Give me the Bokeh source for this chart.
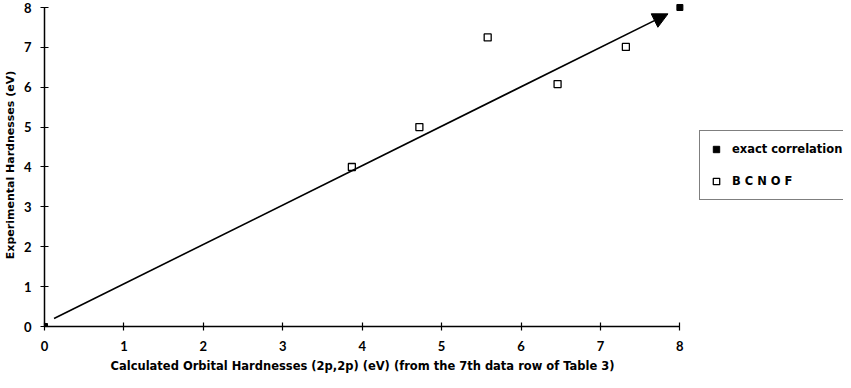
from bokeh.plotting import figure
from bokeh.models import Arrow, NormalHead, Legend, LegendItem, Range1d, FixedTicker, Title
from bokeh.embed import file_html
from bokeh.resources import INLINE

# data
calc_hardness = [3.87, 4.72, 5.58, 6.46, 7.32]
exp_hardness = [4.00, 5.00, 7.25, 6.08, 7.01]
exact_x = [0, 8]
exact_y = [0, 8]
trend_x = [0.12, 7.85]
trend_y = [0.20, 7.84]
ticks = [0, 1, 2, 3, 4, 5, 6, 7, 8]
x_title = "Calculated Orbital Hardnesses (2p,2p) (eV) (from the 7th data row of Table 3)"
y_title = "Experimental Hardnesses (eV)"

TICK_FONT = "Lato"
TEXT_FONT = "DejaVu Sans"

p = figure(width=843, height=380, output_backend="svg", toolbar_location=None,
           x_range=Range1d(0, 10.06), y_range=Range1d(0, 8.1),
           min_border_left=44, min_border_right=0, min_border_top=3, min_border_bottom=54)
p.outline_line_color = None
p.grid.visible = False
p.background_fill_color = "white"

r_exact = p.scatter(exact_x, exact_y, marker="square", size=6, fill_color="black", line_color="black")
r_bcnof = p.scatter(calc_hardness, exp_hardness, marker="square", size=7,
                    fill_color="white", line_color="black", line_width=1.3)

arrow = Arrow(end=NormalHead(size=15, fill_color="black", line_color="black"),
              x_start=trend_x[0], y_start=trend_y[0], x_end=trend_x[1], y_end=trend_y[1],
              line_width=1.6, line_color="black")
p.add_layout(arrow)

for ax in (p.xaxis[0], p.yaxis[0]):
    ax.ticker = FixedTicker(ticks=ticks)
    ax.bounds = (0, 8)
    ax.minor_tick_line_color = None
    ax.major_tick_in = 4
    ax.major_tick_out = 4
    ax.axis_line_width = 1.5
    ax.major_tick_line_width = 1.2
    ax.major_label_text_font = TICK_FONT
    ax.major_label_text_font_style = "bold"
    ax.major_label_text_font_size = "13px"
    ax.major_label_text_color = "black"
    ax.axis_label_text_font = TEXT_FONT
    ax.axis_label_text_font_style = "bold"
    ax.axis_label_text_font_size = "11px"
    ax.axis_label_text_color = "black"

p.yaxis.axis_label = y_title
p.xaxis.major_label_standoff = 10
p.yaxis.major_label_standoff = 9
p.yaxis.axis_label_standoff = 4
p.yaxis.major_label_orientation = "horizontal"

xt = Title(text=x_title, align="left", offset=66, standoff=6,
           text_font=TEXT_FONT, text_font_style="bold", text_font_size="11.5px", text_color="black")
p.add_layout(xt, "below")

legend = Legend(items=[LegendItem(label="exact correlation", renderers=[r_exact]),
                       LegendItem(label="B C N O F", renderers=[r_bcnof])],
                location=(655, 126), padding=8, spacing=12,
                glyph_width=16, glyph_height=20, label_height=20, label_standoff=8,
                label_text_font=TEXT_FONT, label_text_font_style="bold", label_text_font_size="11.5px",
                label_text_color="black",
                border_line_color="black", border_line_width=1.5, background_fill_alpha=1)
p.add_layout(legend, "center")

open("out.html", "w").write(file_html(p, INLINE))
